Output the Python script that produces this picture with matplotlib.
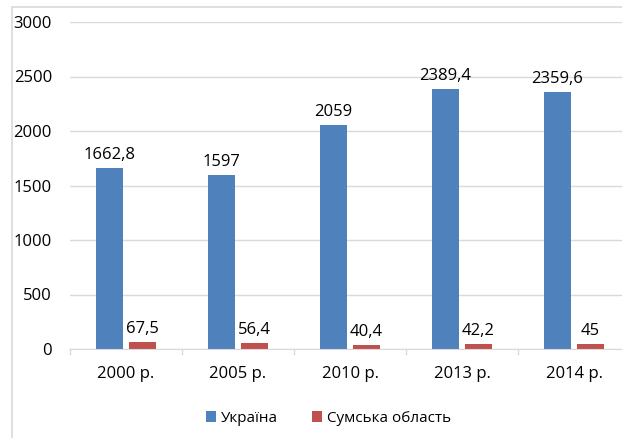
import matplotlib.pyplot as plt
from matplotlib.patches import Rectangle
import numpy as np

plt.rcParams['font.family'] = ['Open Sans', 'DejaVu Sans']

years = ['2000 р.', '2005 р.', '2010 р.', '2013 р.', '2014 р.']
ukraine = [1662.8, 1597, 2059, 2389.4, 2359.6]
sumy = [67.5, 56.4, 40.4, 42.2, 45]
ukr_labels = ['1662,8', '1597', '2059', '2389,4', '2359,6']
sumy_labels = ['67,5', '56,4', '40,4', '42,2', '45']

fig = plt.figure(figsize=(6.22, 4.38), dpi=100)
ax = fig.add_axes([70/622, 1 - 349/438, 560/622, (349 - 22)/438])

# outer chart border (partly cut off in the original)
fig.patches.append(Rectangle((12/622, -0.1), 1.2, 1 - 7/438 + 0.1,
                             transform=fig.transFigure, fill=False,
                             edgecolor='#d9d9d9', linewidth=1.2))

x = np.arange(len(years))
w = 0.235
b1 = ax.bar(x - 0.03 - w/2, ukraine, w, color='#4f81bd', label='Україна', zorder=3)
b2 = ax.bar(x + 0.03 + w/2, sumy, w, color='#c0504d', label='Сумська область', zorder=3)

for rect, lab in zip(b1, ukr_labels):
    ax.text(rect.get_x() + rect.get_width()/2, rect.get_height() + 45, lab,
            ha='center', va='bottom', fontsize=12)
for rect, lab in zip(b2, sumy_labels):
    ax.text(rect.get_x() + rect.get_width()/2, rect.get_height() + 45, lab,
            ha='center', va='bottom', fontsize=12)

ax.set_ylim(0, 3000)
ax.set_xlim(-0.5, 4.5)
ax.set_yticks(range(0, 3001, 500))
ax.set_xticks(x)
ax.set_xticklabels(years)
ax.tick_params(axis='both', labelsize=12, length=0)
ax.tick_params(axis='x', pad=12)
ax.tick_params(axis='y', pad=13)
ax.grid(axis='y', color='#d9d9d9', linewidth=1, zorder=0)
for s in ['top', 'right', 'left']:
    ax.spines[s].set_visible(False)
ax.spines['bottom'].set_color('#d9d9d9')
ax.spines['bottom'].set_zorder(4)

# small category tick marks below the axis
for t in np.arange(-0.5, 4.6, 1):
    ax.plot([t, t], [0, -50], color='#d9d9d9', linewidth=1, clip_on=False)

fig.legend(handles=[b1, b2], loc='center', bbox_to_anchor=(0.528, 1 - 418/438),
           ncol=2, frameon=False, fontsize=11, handlelength=0.7, handleheight=0.7,
           columnspacing=2.2, handletextpad=0.3)

fig.savefig('out.png', dpi=100)
